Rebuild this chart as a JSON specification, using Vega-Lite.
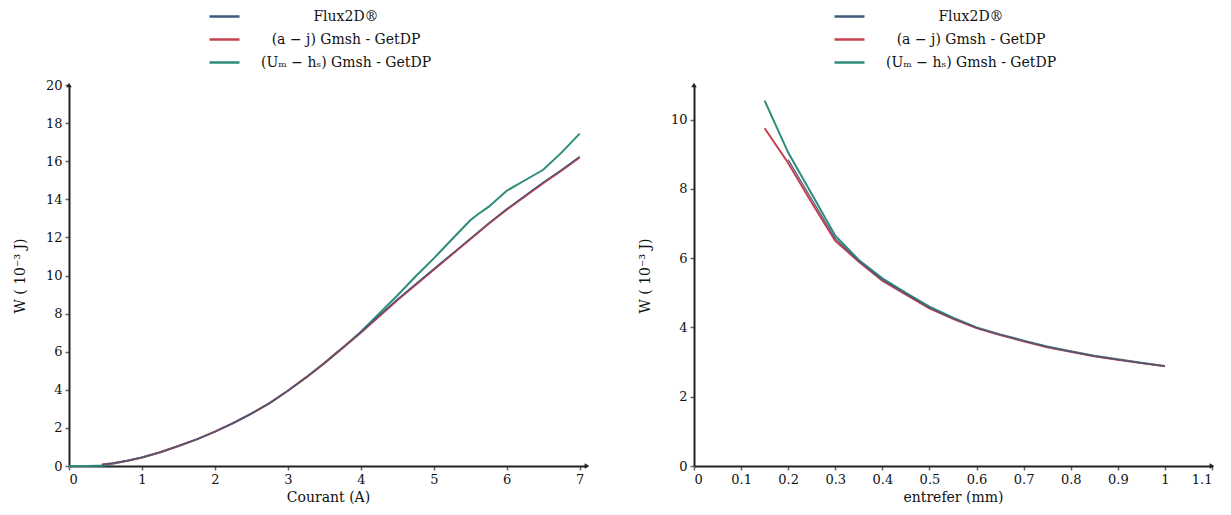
{
  "$schema": "https://vega.github.io/schema/vega-lite/v6.json",
  "padding": {"left": 13, "top": 5, "right": 5, "bottom": 5},
  "config": {
    "view": {"stroke": null},
    "font": "'DejaVu Serif', serif",
    "axis": {
      "grid": false,
      "domainColor": "#222222",
      "domainWidth": 2,
      "tickColor": "#666666",
      "tickSize": 4,
      "tickWidth": 1.5,
      "labelFont": "'DejaVu Serif', serif",
      "labelFontSize": 13,
      "labelColor": "#111111",
      "labelPadding": 3,
      "labelOverlap": false,
      "titleFont": "'DejaVu Serif', serif",
      "titleFontSize": 14,
      "titleFontWeight": "normal",
      "titleColor": "#111111"
    },
    "legend": {
      "orient": "none",
      "legendX": 139,
      "legendY": -80,
      "title": null,
      "symbolType": "stroke",
      "symbolSize": 900,
      "symbolStrokeWidth": 2.5,
      "labelAlign": "center",
      "labelOffset": 105,
      "labelLimit": 400,
      "labelFont": "'DejaVu Serif', serif",
      "labelFontSize": 14,
      "labelColor": "#111111",
      "clipHeight": 23,
      "rowPadding": 0
    }
  },
  "datasets": {
    "courant": [
      {"I": 0, "W": 0, "s": "(Uₘ − hₛ) Gmsh - GetDP"},
      {"I": 0.25, "W": 0, "s": "(Uₘ − hₛ) Gmsh - GetDP"},
      {"I": 0.5, "W": 0.03, "s": "(Uₘ − hₛ) Gmsh - GetDP"},
      {"I": 0.6, "W": 0.12, "s": "(Uₘ − hₛ) Gmsh - GetDP"},
      {"I": 0.8, "W": 0.28, "s": "(Uₘ − hₛ) Gmsh - GetDP"},
      {"I": 1.0, "W": 0.45, "s": "(Uₘ − hₛ) Gmsh - GetDP"},
      {"I": 1.25, "W": 0.72, "s": "(Uₘ − hₛ) Gmsh - GetDP"},
      {"I": 1.5, "W": 1.05, "s": "(Uₘ − hₛ) Gmsh - GetDP"},
      {"I": 1.75, "W": 1.4, "s": "(Uₘ − hₛ) Gmsh - GetDP"},
      {"I": 2.0, "W": 1.8, "s": "(Uₘ − hₛ) Gmsh - GetDP"},
      {"I": 2.25, "W": 2.25, "s": "(Uₘ − hₛ) Gmsh - GetDP"},
      {"I": 2.5, "W": 2.75, "s": "(Uₘ − hₛ) Gmsh - GetDP"},
      {"I": 2.75, "W": 3.3, "s": "(Uₘ − hₛ) Gmsh - GetDP"},
      {"I": 3.0, "W": 3.95, "s": "(Uₘ − hₛ) Gmsh - GetDP"},
      {"I": 3.25, "W": 4.65, "s": "(Uₘ − hₛ) Gmsh - GetDP"},
      {"I": 3.5, "W": 5.4, "s": "(Uₘ − hₛ) Gmsh - GetDP"},
      {"I": 3.75, "W": 6.2, "s": "(Uₘ − hₛ) Gmsh - GetDP"},
      {"I": 4.0, "W": 7.05, "s": "(Uₘ − hₛ) Gmsh - GetDP"},
      {"I": 4.25, "W": 8.0, "s": "(Uₘ − hₛ) Gmsh - GetDP"},
      {"I": 4.5, "W": 8.95, "s": "(Uₘ − hₛ) Gmsh - GetDP"},
      {"I": 4.75, "W": 9.95, "s": "(Uₘ − hₛ) Gmsh - GetDP"},
      {"I": 5.0, "W": 10.9, "s": "(Uₘ − hₛ) Gmsh - GetDP"},
      {"I": 5.25, "W": 11.9, "s": "(Uₘ − hₛ) Gmsh - GetDP"},
      {"I": 5.5, "W": 12.9, "s": "(Uₘ − hₛ) Gmsh - GetDP"},
      {"I": 5.6, "W": 13.2, "s": "(Uₘ − hₛ) Gmsh - GetDP"},
      {"I": 5.75, "W": 13.6, "s": "(Uₘ − hₛ) Gmsh - GetDP"},
      {"I": 6.0, "W": 14.45, "s": "(Uₘ − hₛ) Gmsh - GetDP"},
      {"I": 6.25, "W": 15.0, "s": "(Uₘ − hₛ) Gmsh - GetDP"},
      {"I": 6.5, "W": 15.55, "s": "(Uₘ − hₛ) Gmsh - GetDP"},
      {"I": 6.75, "W": 16.45, "s": "(Uₘ − hₛ) Gmsh - GetDP"},
      {"I": 7.0, "W": 17.45, "s": "(Uₘ − hₛ) Gmsh - GetDP"},
      {"I": 0.45, "W": 0.08, "s": "(a − j) Gmsh - GetDP"},
      {"I": 0.6, "W": 0.15, "s": "(a − j) Gmsh - GetDP"},
      {"I": 0.8, "W": 0.28, "s": "(a − j) Gmsh - GetDP"},
      {"I": 1.0, "W": 0.45, "s": "(a − j) Gmsh - GetDP"},
      {"I": 1.25, "W": 0.72, "s": "(a − j) Gmsh - GetDP"},
      {"I": 1.5, "W": 1.05, "s": "(a − j) Gmsh - GetDP"},
      {"I": 1.75, "W": 1.4, "s": "(a − j) Gmsh - GetDP"},
      {"I": 2.0, "W": 1.8, "s": "(a − j) Gmsh - GetDP"},
      {"I": 2.25, "W": 2.25, "s": "(a − j) Gmsh - GetDP"},
      {"I": 2.5, "W": 2.75, "s": "(a − j) Gmsh - GetDP"},
      {"I": 2.75, "W": 3.3, "s": "(a − j) Gmsh - GetDP"},
      {"I": 3.0, "W": 3.95, "s": "(a − j) Gmsh - GetDP"},
      {"I": 3.25, "W": 4.65, "s": "(a − j) Gmsh - GetDP"},
      {"I": 3.5, "W": 5.4, "s": "(a − j) Gmsh - GetDP"},
      {"I": 3.75, "W": 6.2, "s": "(a − j) Gmsh - GetDP"},
      {"I": 4.0, "W": 7.0, "s": "(a − j) Gmsh - GetDP"},
      {"I": 4.25, "W": 7.85, "s": "(a − j) Gmsh - GetDP"},
      {"I": 4.5, "W": 8.7, "s": "(a − j) Gmsh - GetDP"},
      {"I": 4.75, "W": 9.5, "s": "(a − j) Gmsh - GetDP"},
      {"I": 5.0, "W": 10.3, "s": "(a − j) Gmsh - GetDP"},
      {"I": 5.25, "W": 11.1, "s": "(a − j) Gmsh - GetDP"},
      {"I": 5.5, "W": 11.9, "s": "(a − j) Gmsh - GetDP"},
      {"I": 5.75, "W": 12.7, "s": "(a − j) Gmsh - GetDP"},
      {"I": 6.0, "W": 13.45, "s": "(a − j) Gmsh - GetDP"},
      {"I": 6.25, "W": 14.15, "s": "(a − j) Gmsh - GetDP"},
      {"I": 6.5, "W": 14.85, "s": "(a − j) Gmsh - GetDP"},
      {"I": 6.75, "W": 15.5, "s": "(a − j) Gmsh - GetDP"},
      {"I": 7.0, "W": 16.2, "s": "(a − j) Gmsh - GetDP"},
      {"I": 0.45, "W": 0.08, "s": "Flux2D®"},
      {"I": 0.6, "W": 0.15, "s": "Flux2D®"},
      {"I": 0.8, "W": 0.28, "s": "Flux2D®"},
      {"I": 1.0, "W": 0.45, "s": "Flux2D®"},
      {"I": 1.25, "W": 0.72, "s": "Flux2D®"},
      {"I": 1.5, "W": 1.05, "s": "Flux2D®"},
      {"I": 1.75, "W": 1.4, "s": "Flux2D®"},
      {"I": 2.0, "W": 1.8, "s": "Flux2D®"},
      {"I": 2.25, "W": 2.25, "s": "Flux2D®"},
      {"I": 2.5, "W": 2.75, "s": "Flux2D®"},
      {"I": 2.75, "W": 3.3, "s": "Flux2D®"},
      {"I": 3.0, "W": 3.95, "s": "Flux2D®"},
      {"I": 3.25, "W": 4.65, "s": "Flux2D®"},
      {"I": 3.5, "W": 5.4, "s": "Flux2D®"},
      {"I": 3.75, "W": 6.2, "s": "Flux2D®"},
      {"I": 4.0, "W": 7.02, "s": "Flux2D®"},
      {"I": 4.25, "W": 7.9, "s": "Flux2D®"},
      {"I": 4.5, "W": 8.75, "s": "Flux2D®"},
      {"I": 4.75, "W": 9.55, "s": "Flux2D®"},
      {"I": 5.0, "W": 10.35, "s": "Flux2D®"},
      {"I": 5.25, "W": 11.15, "s": "Flux2D®"},
      {"I": 5.5, "W": 11.95, "s": "Flux2D®"},
      {"I": 5.75, "W": 12.75, "s": "Flux2D®"},
      {"I": 6.0, "W": 13.5, "s": "Flux2D®"},
      {"I": 6.25, "W": 14.2, "s": "Flux2D®"},
      {"I": 6.5, "W": 14.9, "s": "Flux2D®"},
      {"I": 6.75, "W": 15.55, "s": "Flux2D®"},
      {"I": 7.0, "W": 16.25, "s": "Flux2D®"}
    ],
    "entrefer": [
      {"e": 0.15, "W": 10.55, "s": "(Uₘ − hₛ) Gmsh - GetDP"},
      {"e": 0.2, "W": 9.05, "s": "(Uₘ − hₛ) Gmsh - GetDP"},
      {"e": 0.25, "W": 7.85, "s": "(Uₘ − hₛ) Gmsh - GetDP"},
      {"e": 0.3, "W": 6.65, "s": "(Uₘ − hₛ) Gmsh - GetDP"},
      {"e": 0.35, "W": 5.95, "s": "(Uₘ − hₛ) Gmsh - GetDP"},
      {"e": 0.4, "W": 5.42, "s": "(Uₘ − hₛ) Gmsh - GetDP"},
      {"e": 0.45, "W": 5.0, "s": "(Uₘ − hₛ) Gmsh - GetDP"},
      {"e": 0.5, "W": 4.6, "s": "(Uₘ − hₛ) Gmsh - GetDP"},
      {"e": 0.55, "W": 4.28, "s": "(Uₘ − hₛ) Gmsh - GetDP"},
      {"e": 0.6, "W": 4.0, "s": "(Uₘ − hₛ) Gmsh - GetDP"},
      {"e": 0.65, "W": 3.8, "s": "(Uₘ − hₛ) Gmsh - GetDP"},
      {"e": 0.7, "W": 3.62, "s": "(Uₘ − hₛ) Gmsh - GetDP"},
      {"e": 0.75, "W": 3.45, "s": "(Uₘ − hₛ) Gmsh - GetDP"},
      {"e": 0.8, "W": 3.31, "s": "(Uₘ − hₛ) Gmsh - GetDP"},
      {"e": 0.85, "W": 3.18, "s": "(Uₘ − hₛ) Gmsh - GetDP"},
      {"e": 0.9, "W": 3.08, "s": "(Uₘ − hₛ) Gmsh - GetDP"},
      {"e": 0.95, "W": 2.98, "s": "(Uₘ − hₛ) Gmsh - GetDP"},
      {"e": 1.0, "W": 2.89, "s": "(Uₘ − hₛ) Gmsh - GetDP"},
      {"e": 0.15, "W": 9.75, "s": "(a − j) Gmsh - GetDP"},
      {"e": 0.2, "W": 8.75, "s": "(a − j) Gmsh - GetDP"},
      {"e": 0.25, "W": 7.6, "s": "(a − j) Gmsh - GetDP"},
      {"e": 0.3, "W": 6.5, "s": "(a − j) Gmsh - GetDP"},
      {"e": 0.35, "W": 5.9, "s": "(a − j) Gmsh - GetDP"},
      {"e": 0.4, "W": 5.35, "s": "(a − j) Gmsh - GetDP"},
      {"e": 0.45, "W": 4.95, "s": "(a − j) Gmsh - GetDP"},
      {"e": 0.5, "W": 4.55, "s": "(a − j) Gmsh - GetDP"},
      {"e": 0.55, "W": 4.25, "s": "(a − j) Gmsh - GetDP"},
      {"e": 0.6, "W": 3.98, "s": "(a − j) Gmsh - GetDP"},
      {"e": 0.65, "W": 3.78, "s": "(a − j) Gmsh - GetDP"},
      {"e": 0.7, "W": 3.6, "s": "(a − j) Gmsh - GetDP"},
      {"e": 0.75, "W": 3.43, "s": "(a − j) Gmsh - GetDP"},
      {"e": 0.8, "W": 3.3, "s": "(a − j) Gmsh - GetDP"},
      {"e": 0.85, "W": 3.17, "s": "(a − j) Gmsh - GetDP"},
      {"e": 0.9, "W": 3.07, "s": "(a − j) Gmsh - GetDP"},
      {"e": 0.95, "W": 2.97, "s": "(a − j) Gmsh - GetDP"},
      {"e": 1.0, "W": 2.88, "s": "(a − j) Gmsh - GetDP"},
      {"e": 0.2, "W": 8.85, "s": "Flux2D®"},
      {"e": 0.25, "W": 7.7, "s": "Flux2D®"},
      {"e": 0.3, "W": 6.57, "s": "Flux2D®"},
      {"e": 0.35, "W": 5.92, "s": "Flux2D®"},
      {"e": 0.4, "W": 5.38, "s": "Flux2D®"},
      {"e": 0.45, "W": 4.97, "s": "Flux2D®"},
      {"e": 0.5, "W": 4.57, "s": "Flux2D®"},
      {"e": 0.55, "W": 4.26, "s": "Flux2D®"},
      {"e": 0.6, "W": 3.99, "s": "Flux2D®"},
      {"e": 0.65, "W": 3.79, "s": "Flux2D®"},
      {"e": 0.7, "W": 3.61, "s": "Flux2D®"},
      {"e": 0.75, "W": 3.44, "s": "Flux2D®"},
      {"e": 0.8, "W": 3.3, "s": "Flux2D®"},
      {"e": 0.85, "W": 3.17, "s": "Flux2D®"},
      {"e": 0.9, "W": 3.07, "s": "Flux2D®"},
      {"e": 0.95, "W": 2.97, "s": "Flux2D®"},
      {"e": 1.0, "W": 2.88, "s": "Flux2D®"}
    ]
  },
  "resolve": {"scale": {"color": "independent"}, "legend": {"color": "independent"}},
  "spacing": 48,
  "hconcat": [
    {
      "width": 518,
      "height": 381,
      "layer": [
        {
          "data": {"name": "courant"},
          "transform": [{"filter": "datum.s !== 'Flux2D®'"}],
          "mark": {"type": "line", "strokeWidth": 2, "clip": false},
          "encoding": {
            "x": {"field": "I", "type": "quantitative", "scale": {"domain": [0, 7.1], "nice": false}, "axis": {"values": [0, 1, 2, 3, 4, 5, 6, 7], "title": "Courant (A)", "format": "~g", "labelOverlap": false}},
            "y": {"field": "W", "type": "quantitative", "scale": {"domain": [0, 20], "nice": false}, "axis": {"values": [0, 2, 4, 6, 8, 10, 12, 14, 16, 18, 20], "tickCount": 11, "title": "W ( 10⁻³ J)", "titlePadding": 18, "labelOverlap": false, "format": "d"}},
            "color": {"field": "s", "type": "nominal", "scale": {"domain": ["Flux2D®", "(a − j) Gmsh - GetDP", "(Uₘ − hₛ) Gmsh - GetDP"], "range": ["#3d5a80", "#c8404e", "#2e8b7a"]}}
          }
        },
        {
          "data": {"name": "courant"},
          "transform": [{"filter": "datum.s === 'Flux2D®'"}],
          "mark": {"type": "line", "strokeWidth": 1.2, "clip": false},
          "encoding": {
            "x": {"field": "I", "type": "quantitative"},
            "y": {"field": "W", "type": "quantitative"},
            "color": {"field": "s", "type": "nominal"}
          }
        },
        {
          "data": {"values": [{"I": 7.1, "W": 0}]},
          "mark": {"type": "point", "shape": "triangle-right", "filled": true, "size": 30, "color": "#222222", "opacity": 1, "clip": false},
          "encoding": {"x": {"field": "I", "type": "quantitative"}, "y": {"field": "W", "type": "quantitative"}}
        },
        {
          "data": {"values": [{"I": 0, "W": 20}]},
          "mark": {"type": "point", "shape": "triangle-up", "filled": true, "size": 30, "color": "#222222", "opacity": 1, "clip": false},
          "encoding": {"x": {"field": "I", "type": "quantitative"}, "y": {"field": "W", "type": "quantitative"}}
        }
      ]
    },
    {
      "width": 518,
      "height": 381,
      "layer": [
        {
          "data": {"name": "entrefer"},
          "transform": [{"filter": "datum.s !== 'Flux2D®'"}],
          "mark": {"type": "line", "strokeWidth": 2, "clip": false},
          "encoding": {
            "x": {"field": "e", "type": "quantitative", "scale": {"domain": [0, 1.1], "nice": false}, "axis": {"values": [0, 0.1, 0.2, 0.3, 0.4, 0.5, 0.6, 0.7, 0.8, 0.9, 1, 1.1], "title": "entrefer (mm)", "format": "~g", "labelOverlap": false}},
            "y": {"field": "W", "type": "quantitative", "scale": {"domain": [0, 11], "nice": false}, "axis": {"values": [0, 2, 4, 6, 8, 10], "title": "W ( 10⁻³ J)", "titlePadding": 18, "labelOverlap": false}},
            "color": {"field": "s", "type": "nominal", "scale": {"domain": ["Flux2D®", "(a − j) Gmsh - GetDP", "(Uₘ − hₛ) Gmsh - GetDP"], "range": ["#3d5a80", "#c8404e", "#2e8b7a"]}}
          }
        },
        {
          "data": {"name": "entrefer"},
          "transform": [{"filter": "datum.s === 'Flux2D®'"}],
          "mark": {"type": "line", "strokeWidth": 1.2, "clip": false},
          "encoding": {
            "x": {"field": "e", "type": "quantitative"},
            "y": {"field": "W", "type": "quantitative"},
            "color": {"field": "s", "type": "nominal"}
          }
        },
        {
          "data": {"values": [{"e": 1.1, "W": 0}]},
          "mark": {"type": "point", "shape": "triangle-right", "filled": true, "size": 30, "color": "#222222", "opacity": 1, "clip": false},
          "encoding": {"x": {"field": "e", "type": "quantitative"}, "y": {"field": "W", "type": "quantitative"}}
        },
        {
          "data": {"values": [{"e": 0, "W": 11}]},
          "mark": {"type": "point", "shape": "triangle-up", "filled": true, "size": 30, "color": "#222222", "opacity": 1, "clip": false},
          "encoding": {"x": {"field": "e", "type": "quantitative"}, "y": {"field": "W", "type": "quantitative"}}
        }
      ]
    }
  ]
}
